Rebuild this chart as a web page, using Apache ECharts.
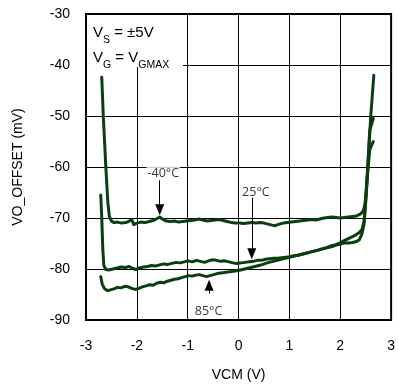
<!DOCTYPE html>
<html>
<head>
<meta charset="utf-8">
<script src="https://cdn.jsdelivr.net/npm/echarts@6/dist/echarts.min.js"></script>
<style>
  html, body { margin: 0; padding: 0; background: #fff; }
  #chart { width: 398px; height: 387px; }
</style>
</head>
<body>
<div id="chart"></div>
<script>
// Input offset voltage vs common-mode voltage, three temperatures: [VCM (V), VO_OFFSET (mV)]
const curveM40 = [
  [-2.69,-42.4],[-2.66,-50],[-2.61,-60],[-2.57,-67],[-2.54,-69.7],[-2.50,-70.6],[-2.45,-70.9],
  [-2.38,-70.8],[-2.30,-71.0],[-2.22,-70.9],[-2.15,-70.6],[-2.10,-70.3],[-2.06,-71.3],[-2.00,-71.0],
  [-1.92,-70.8],[-1.84,-70.9],[-1.76,-70.7],[-1.68,-70.5],[-1.60,-70.1],[-1.55,-69.8],[-1.50,-70.2],
  [-1.42,-70.6],[-1.34,-70.7],[-1.26,-70.6],[-1.18,-70.8],[-1.10,-70.7],[-1.02,-70.6],[-0.94,-70.5],
  [-0.86,-70.4],[-0.78,-70.2],[-0.70,-70.4],[-0.62,-70.6],[-0.54,-70.5],[-0.46,-70.4],[-0.38,-70.3],
  [-0.30,-70.5],[-0.22,-70.7],[-0.14,-70.9],[-0.06,-71.0],[0.02,-71.0],[0.10,-71.1],[0.18,-71.0],
  [0.26,-70.9],[0.34,-71.0],[0.42,-70.9],[0.50,-71.0],[0.58,-71.2],[0.66,-71.4],[0.72,-71.5],
  [0.80,-71.2],[0.88,-71.0],[0.96,-70.9],[1.04,-70.8],[1.12,-70.7],[1.20,-70.6],[1.28,-70.5],
  [1.36,-70.4],[1.44,-70.3],[1.52,-70.4],[1.60,-70.2],[1.68,-70.0],[1.76,-69.9],[1.84,-69.8],
  [1.92,-69.9],[2.00,-70.0],[2.08,-69.9],[2.16,-69.8],[2.24,-69.7],[2.32,-69.6],[2.40,-69.2],
  [2.45,-68.6],[2.48,-67.6],[2.50,-66.0],[2.54,-60.0],[2.60,-50.0],[2.66,-42.0]
];
const curve25 = [
  [-2.71,-65.5],[-2.69,-70],[-2.67,-76],[-2.65,-79.3],[-2.61,-80.1],[-2.55,-80.2],[-2.47,-80.0],
  [-2.39,-79.8],[-2.31,-79.6],[-2.23,-79.7],[-2.15,-79.5],[-2.08,-79.9],[-2.02,-80.1],[-1.95,-79.8],
  [-1.87,-79.6],[-1.79,-79.5],[-1.71,-79.3],[-1.63,-79.4],[-1.55,-79.2],[-1.47,-79.0],[-1.39,-79.1],
  [-1.31,-78.9],[-1.23,-78.7],[-1.15,-78.8],[-1.07,-78.6],[-0.99,-78.4],[-0.91,-78.6],[-0.83,-78.3],
  [-0.75,-78.5],[-0.67,-78.7],[-0.59,-78.4],[-0.51,-78.2],[-0.43,-78.3],[-0.35,-78.5],[-0.27,-78.4],
  [-0.19,-78.6],[-0.11,-78.8],[-0.03,-78.9],[0.05,-78.8],[0.13,-78.7],[0.21,-78.6],[0.29,-78.5],
  [0.37,-78.3],[0.45,-78.3],[0.53,-78.1],[0.61,-78.0],[0.69,-77.9],[0.77,-77.9],[0.85,-77.8],
  [0.93,-77.7],[1.01,-77.6],[1.09,-77.4],[1.17,-77.3],[1.25,-77.1],[1.33,-76.9],[1.41,-76.7],
  [1.49,-76.5],[1.57,-76.3],[1.65,-76.0],[1.73,-75.8],[1.81,-75.5],[1.89,-75.3],[1.97,-75.0],
  [2.05,-74.6],[2.13,-74.2],[2.21,-73.8],[2.29,-73.4],[2.37,-72.9],[2.43,-72.2],[2.47,-70.5],
  [2.50,-66.5],[2.54,-60.5],[2.58,-52.8],[2.65,-50.5]
];
const curve85 = [
  [-2.71,-81.5],[-2.68,-83.0],[-2.64,-83.8],[-2.59,-84.2],[-2.52,-84.1],[-2.45,-83.9],[-2.38,-83.6],
  [-2.31,-83.7],[-2.24,-83.4],[-2.17,-83.5],[-2.10,-83.8],[-2.03,-84.0],[-1.96,-83.8],[-1.89,-83.5],
  [-1.82,-83.3],[-1.75,-83.1],[-1.68,-83.2],[-1.61,-82.8],[-1.54,-82.6],[-1.47,-82.7],[-1.40,-82.4],
  [-1.33,-82.2],[-1.26,-82.0],[-1.19,-81.9],[-1.12,-81.7],[-1.05,-81.5],[-0.98,-81.3],[-0.91,-81.4],
  [-0.84,-81.2],[-0.77,-81.1],[-0.70,-81.3],[-0.63,-81.5],[-0.56,-81.3],[-0.49,-81.1],[-0.42,-80.9],
  [-0.35,-80.8],[-0.28,-80.7],[-0.21,-80.6],[-0.14,-80.5],[-0.07,-80.4],[0.00,-80.3],[0.08,-80.1],
  [0.16,-79.9],[0.24,-79.7],[0.32,-79.5],[0.40,-79.3],[0.48,-79.1],[0.56,-78.8],[0.64,-78.6],
  [0.72,-78.4],[0.80,-78.2],[0.88,-78.0],[0.96,-77.8],[1.04,-77.6],[1.12,-77.4],[1.20,-77.2],
  [1.28,-77.0],[1.36,-76.8],[1.44,-76.6],[1.52,-76.4],[1.60,-76.2],[1.68,-76.0],[1.76,-75.8],
  [1.84,-75.6],[1.92,-75.3],[2.00,-75.1],[2.08,-74.9],[2.16,-74.9],[2.24,-74.8],[2.32,-74.6],
  [2.38,-74.2],[2.43,-73.0],[2.47,-71.0],[2.50,-67.0],[2.54,-61.0],[2.58,-56.6],[2.65,-55.0]
];

// Temperature callouts: label text, arrow x, arrow start/end (mV), label anchor
const calloutText = ['-40°C', '25°C', '85°C'];
const calloutX = [-1.55, 0.26, -0.58];
const arrowStart = [-62.4, -66.0, -84.8];
const arrowEnd = [-68.4, -77.0, -83.2];
const labelX = [-1.48, 0.34, -0.59];
const labelY = [-61.2, -65.0, -88.4];
const labelMasked = [true, false, false];

// Axis ranges
const xMin = -3, xMax = 3, xStep = 1;
const yMin = -90, yMax = -30, yStep = 10;

const lineColor = '#0b3d0e';
const font = "'Liberation Sans', Arial, sans-serif";

const chart = echarts.init(document.getElementById('chart'), null, { renderer: 'canvas' });

const curveSeries = [curveM40, curve25, curve85].map((d, i) => ({
  type: 'line',
  name: calloutText[i],
  data: d,
  showSymbol: false,
  symbol: 'none',
  smooth: false,
  lineStyle: { color: lineColor, width: 3, cap: 'round', join: 'round' },
  z: 3
}));

const arrowSeries = {
  type: 'line',
  data: [],
  silent: true,
  markLine: {
    silent: true,
    animation: false,
    symbol: ['none', 'triangle'],
    symbolSize: [9, 11],
    label: { show: false },
    lineStyle: { color: '#000', width: 1, type: 'solid' },
    data: calloutX.map((x, i) => [
      { coord: [x, arrowStart[i]] },
      { coord: [x, arrowEnd[i]] }
    ])
  },
  z: 4
};

const labelSeries = {
  type: 'scatter',
  data: labelX.map((x, i) => ({
    value: [x, labelY[i]],
    name: calloutText[i],
    label: labelMasked[i] ? { backgroundColor: '#fff', padding: [1, 1] } : {}
  })),
  symbolSize: 0,
  silent: true,
  label: {
    show: true,
    position: 'inside',
    formatter: p => p.name,
    color: '#000',
    fontFamily: "'Open Sans', 'Liberation Sans', sans-serif",
    fontSize: 12.5
  },
  z: 5
};

const richLegend = {
  v: { fontSize: 15, fontFamily: font, fill: '#000', lineHeight: 18, verticalAlign: 'top' },
  s: { fontSize: 10.5, fontFamily: font, fill: '#000', lineHeight: 18, verticalAlign: 'bottom', padding: [0, 0, -3, 0] }
};

chart.setOption({
  animation: false,
  backgroundColor: '#fff',
  grid: {
    left: 86, right: 5, top: 14, bottom: 63,
    show: true, borderColor: '#000', borderWidth: 2, backgroundColor: '#fff'
  },
  xAxis: {
    type: 'value',
    min: xMin, max: xMax, interval: xStep,
    name: 'VCM (V)',
    nameLocation: 'middle',
    nameGap: 48,
    nameTextStyle: { color: '#000', fontSize: 14, fontFamily: font },
    axisLine: { show: false },
    axisTick: { show: false },
    axisLabel: { color: '#000', fontSize: 14, fontFamily: font, margin: 19 },
    splitLine: { show: true, lineStyle: { color: '#000', width: 1 } }
  },
  yAxis: {
    type: 'value',
    min: yMin, max: yMax, interval: yStep,
    name: 'VO_OFFSET (mV)',
    nameLocation: 'middle',
    nameGap: 61,
    nameTextStyle: { color: '#000', fontSize: 14, fontFamily: font },
    axisLine: { show: false },
    axisTick: { show: false },
    axisLabel: { color: '#000', fontSize: 14, fontFamily: font, margin: 16 },
    splitLine: { show: true, lineStyle: { color: '#000', width: 1 } }
  },
  graphic: [
    {
      type: 'rect',
      z: 10,
      shape: { x: 87, y: 15, width: 96, height: 52 },
      style: { fill: '#fff' }
    },
    {
      type: 'text',
      z: 11,
      x: 93, y: 25,
      style: { text: '{v|V}{s|S}{v| = ±5V}', rich: richLegend }
    },
    {
      type: 'text',
      z: 11,
      x: 93, y: 50,
      style: { text: '{v|V}{s|G}{v| = V}{s|GMAX}', rich: richLegend }
    }
  ],
  series: [...curveSeries, arrowSeries, labelSeries]
});
</script>
</body>
</html>
